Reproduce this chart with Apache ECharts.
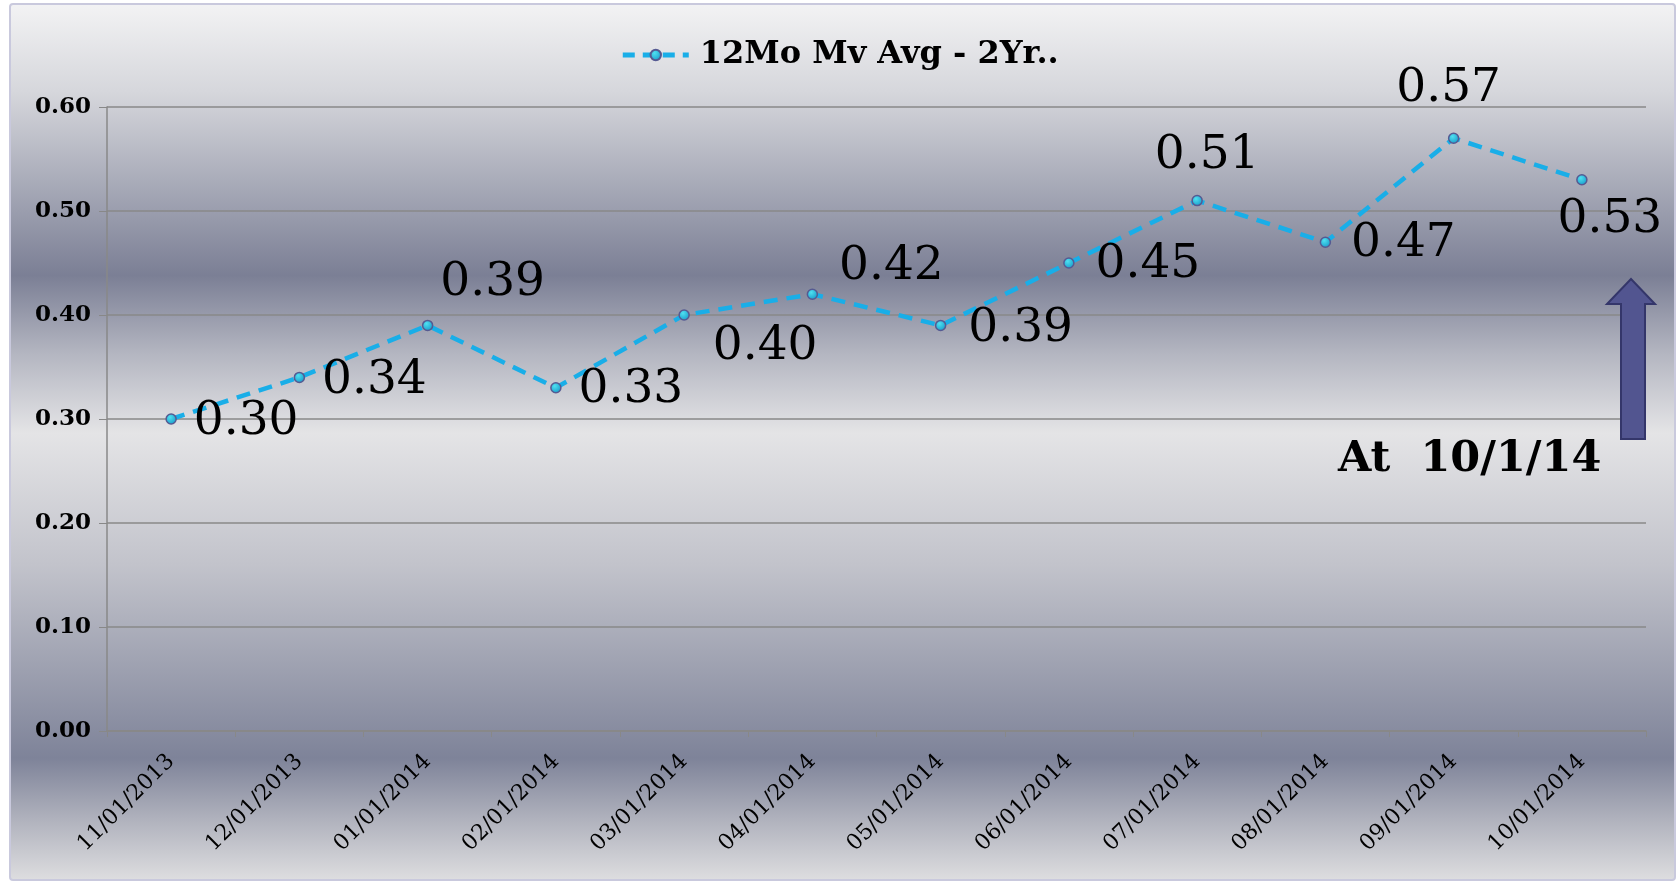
<!DOCTYPE html>
<html><head><meta charset="utf-8">
<script src="https://cdn.jsdelivr.net/npm/echarts@6/dist/echarts.min.js"></script>
<style>html,body{margin:0;padding:0;background:#fff;}#c{width:1679px;height:882px;}</style>
</head><body><div id="c"></div>
<script>
const categories = ['11/01/2013','12/01/2013','01/01/2014','02/01/2014','03/01/2014','04/01/2014','05/01/2014','06/01/2014','07/01/2014','08/01/2014','09/01/2014','10/01/2014'];
const values = [0.30,0.34,0.39,0.33,0.40,0.42,0.39,0.45,0.51,0.47,0.57,0.53];
const seriesName = '12Mo Mv Avg - 2Yr..';
const yTicks = [0,0.1,0.2,0.3,0.4,0.5,0.6];
const annotationText = 'At  10/1/14';
// label placement offsets (layout only)
const labelOffsets = [[75,3],[75,3],[65,-43],[75,2],[81,32],[79,-27],[80,3],[79,2],[10,-45],[78,2],[-5,-49],[28,40]];

const SERIF = '"DejaVu Serif", "Liberation Serif", serif';
const chart = echarts.init(document.getElementById('c'));
const bg = new echarts.graphic.LinearGradient(0,0,0,1,[
  {offset:0.00,color:'#f3f3f4'},
  {offset:0.10,color:'#d6d7dc'},
  {offset:0.31,color:'#7b7f95'},
  {offset:0.40,color:'#b4b6c1'},
  {offset:0.49,color:'#e4e4e6'},
  {offset:0.64,color:'#c2c3cb'},
  {offset:0.86,color:'#7e8399'},
  {offset:0.93,color:'#b0b2bd'},
  {offset:1.00,color:'#dedee0'}
]);
chart.setOption({
  animation:false,
  backgroundColor:'#ffffff',
  graphic:[
    {type:'rect',z:-10,silent:true,shape:{x:10,y:4,width:1665,height:876,r:3},style:{fill:bg,stroke:'#c9c9dd',lineWidth:2}},
    {type:'polygon',z:10,shape:{points:[[1631,279],[1655,304],[1645,304],[1645,439],[1621,439],[1621,304],[1607,304]]},style:{fill:'#525590',stroke:'#34366a',lineWidth:2}},
    {type:'text',z:10,left:1338,top:438,style:{text:annotationText,font:'bold 43px '+SERIF,fill:'#000'}}
  ],
  legend:{
    top:34,left:'center',itemWidth:66,itemHeight:13,itemGap:12,
    lineStyle:{width:5,type:[12,8]},
    textStyle:{fontFamily:SERIF,fontWeight:'bold',fontSize:32,color:'#000',padding:[0,0,0,6]},
    data:[seriesName]
  },
  grid:{left:107,right:33,top:107,bottom:151,containLabel:false},
  xAxis:{
    type:'category',data:categories,boundaryGap:true,
    axisLine:{lineStyle:{color:'#888888',width:1.5}},
    axisTick:{show:true,length:6,lineStyle:{color:'#888888'}},
    axisLabel:{rotate:45,fontFamily:SERIF,fontSize:22,color:'#000',margin:27,interval:0}
  },
  yAxis:{
    type:'value',min:0,max:0.6,interval:0.1,
    axisLine:{show:true,lineStyle:{color:'#888888',width:1.5}},
    axisTick:{show:true,length:8,lineStyle:{color:'#888888'}},
    axisLabel:{fontFamily:SERIF,fontWeight:'bold',fontSize:23,color:'#000',margin:16,
      formatter:v=>v.toFixed(2)},
    splitLine:{lineStyle:{color:'#888888',width:1.5}}
  },
  series:[{
    name:seriesName,type:'line',
    data:values.map((v,i)=>({value:v,label:{offset:labelOffsets[i]}})),
    symbol:'circle',symbolSize:10,
    lineStyle:{color:'#19aee8',width:4.5,type:[14,9]},
    itemStyle:{color:new echarts.graphic.RadialGradient(0.4,0.35,0.7,[{offset:0,color:'#4fe0f0'},{offset:1,color:'#1597c8'}]),borderColor:'#555a92',borderWidth:1.5},
    label:{show:true,position:'inside',align:'center',verticalAlign:'middle',
      fontFamily:SERIF,fontSize:47,color:'#000',formatter:p=>p.value.toFixed(2)},
    z:5
  }]
});
</script></body></html>
